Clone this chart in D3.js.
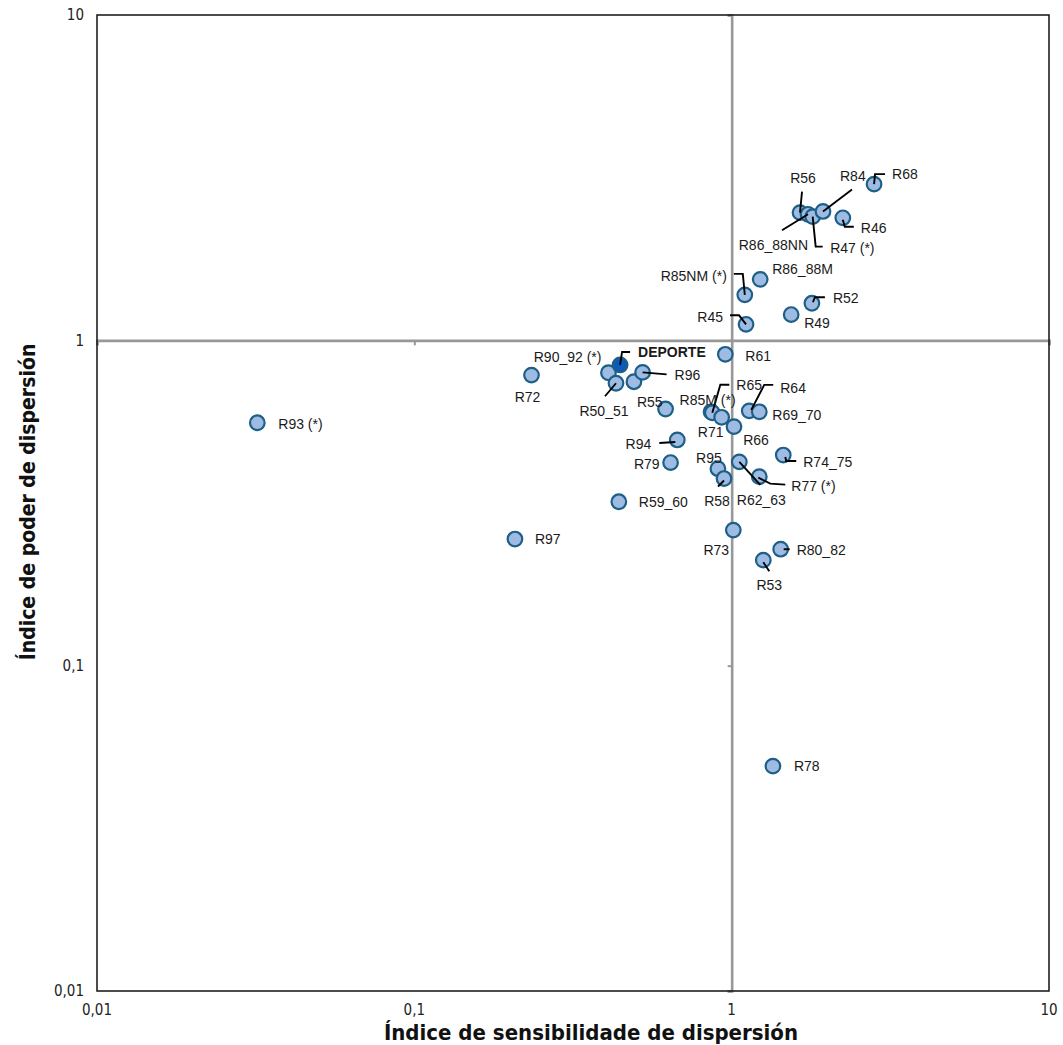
<!DOCTYPE html>
<html><head><meta charset="utf-8">
<script src="https://cdn.jsdelivr.net/npm/d3@7"></script>
<style>body{margin:0;background:#fff}svg{display:block}</style>
</head><body><svg id="c" width="1063" height="1045"></svg>
<script>
// ---- data ----
const names = ["R68","R56","R86_88NN","R47 (*)","R84","R46","R86_88M","R85NM (*)","R52","R49","R45",
  "R90_92 (*)","R72","R50_51","","R96","R55","R85M (*)","R65","R64","R69_70","R71","R66",
  "R94","R79","R95","R58","R59_60","R62_63","R77 (*)","R74_75","R61","R73","R80_82","R53",
  "R93 (*)","R97","R78","DEPORTE"];
const sensitivity = [2.81,1.642,1.74,1.80,1.94,2.24,1.23,1.10,1.79,1.54,1.11,
  0.409,0.234,0.432,0.492,0.524,0.619,0.861,0.869,1.136,1.222,0.930,1.017,
  0.674,0.642,0.905,0.946,0.441,1.057,1.222,1.454,0.955,1.012,1.427,1.258,
  0.032,0.2075,1.349,0.445];
const power = [3.02,2.47,2.44,2.40,2.49,2.38,1.54,1.38,1.30,1.20,1.12,
  0.795,0.782,0.738,0.746,0.797,0.615,0.603,0.599,0.607,0.603,0.580,0.543,
  0.494,0.421,0.403,0.376,0.319,0.423,0.381,0.444,0.906,0.261,0.228,0.211,
  0.558,0.245,0.0491,0.84];
const highlight = "DEPORTE";
const tickValues = [0.01,0.1,1,10];
const tickLabels = ["0,01","0,1","1","10"];
const xTitle = "Índice de sensibilidade de dispersión";
const yTitle = "Índice de poder de dispersión";

// ---- label layout (pixel offsets from the point) ----
const labelLayout = {
  "R68":[18,-10,"s",[[11,-10],[1,-10],[0,0]]],
  "R56":[3,-34,"m",[[2,-21],[0,0]]],
  "R86_88NN":[0,31,"e",[[-26,16],[0,0]]],
  "R47 (*)":[17.5,31,"s",[[0,0],[3,30],[10,30]]],
  "R84":[17,-35,"s",[[29,-22],[0,0]]],
  "R46":[18,10,"s",[[0,2],[2,9],[11,9]]],
  "R86_88M":[12,-10,"s"],
  "R85NM (*)":[-18,-19,"e",[[-11,-21],[-2,-21],[0,0]]],
  "R52":[21,-5,"s",[[1,-1],[3,-6],[13,-6]]],
  "R49":[13,9,"s"],
  "R45":[-23,-7,"e",[[-16,-9],[-7,-9],[0,0]]],
  "DEPORTE":[18,-13,"s",[[10,-13],[2,-13],[0,0]]],
  "R90_92 (*)":[-7,-16,"e"],
  "R72":[-4,22,"m"],
  "R50_51":[-12,28,"m",[[-11,13],[0,0]]],
  "R96":[32,3,"s",[[24,2],[0,0]]],
  "R55":[-3,-7,"e"],
  "R85M (*)":[-3.5,-12,"m"],
  "R65":[24,-28,"s",[[17,-28],[8,-28],[0,0]]],
  "R64":[31,-23,"s",[[24,-26],[15,-26],[2,-1]]],
  "R69_70":[13,3,"s"],
  "R71":[-11,15,"m"],
  "R66":[22,13,"m"],
  "R94":[-26,4,"e",[[-18,3],[-2,2]]],
  "R79":[-11,2,"e"],
  "R95":[-9,-11,"m"],
  "R58":[-7,23,"m",[[-6,8],[0,2]]],
  "R59_60":[20,0,"s"],
  "R62_63":[22,38,"m",[[0,0],[21,23]]],
  "R77 (*)":[32,9,"s",[[-1,1],[11,7],[26,8]]],
  "R74_75":[20,7,"s",[[2,2],[3,6],[13,6]]],
  "R61":[20,2,"s"],
  "R73":[-17,20,"m"],
  "R80_82":[16,1,"s",[[3,0],[9,0]]],
  "R53":[6,25,"m",[[0,2],[6,11]]],
  "R93 (*)":[21,1,"s"],
  "R97":[20,0,"s"],
  "R78":[21,0,"s"]
};

const points = names.map((n,i)=>({name:n,x:sensitivity[i],y:power[i]}));
const svg = d3.select("#c");
const L=97,R=1049,T=15,B=991;
const x = d3.scaleLog().domain([0.01,10]).range([L,R]);
const y = d3.scaleLog().domain([0.01,10]).range([B,T]);
const font = "'Liberation Sans', Arial, sans-serif";
const narrow = "'Liberation Sans Narrow','DejaVu Sans Condensed','Roboto',sans-serif";

svg.append("rect").attr("width",1063).attr("height",1045).attr("fill","#fff");

// crossing axes at 1
const gx = svg.append("g").attr("transform",`translate(0,${y(1)})`)
  .call(d3.axisBottom(x).tickValues(tickValues).tickSize(5).tickFormat(""));
const gy = svg.append("g").attr("transform",`translate(${x(1)},0)`)
  .call(d3.axisLeft(y).tickValues(tickValues).tickSize(4).tickFormat(""));
[gx,gy].forEach(g=>{
  g.select(".domain").attr("stroke","#989898").attr("stroke-width",2.6);
  g.selectAll(".tick line").attr("stroke","#989898").attr("stroke-width",2);
});

// frame
svg.append("rect").attr("x",L).attr("y",T).attr("width",R-L).attr("height",B-T)
  .attr("fill","none").attr("stroke","#111").attr("stroke-width",1.5);

// tick labels (low position)
svg.append("g").selectAll("text").data(tickValues).join("text")
  .attr("x",d=>x(d)).attr("y",1010).attr("dy","0.35em").attr("text-anchor","middle")
  .attr("font-family",narrow).attr("font-size",15).attr("fill","#222")
  .text((d,i)=>tickLabels[i]);
svg.append("g").selectAll("text").data(tickValues).join("text")
  .attr("x",84).attr("y",d=>y(d)).attr("dy","0.35em").attr("text-anchor","end")
  .attr("font-family",narrow).attr("font-size",15).attr("fill","#222")
  .text((d,i)=>tickLabels[i]);

// axis titles
svg.append("text").attr("x",591).attr("y",1032).attr("dy","0.35em").attr("text-anchor","middle")
  .attr("font-family",narrow).attr("font-weight","bold").attr("font-size",22).attr("fill","#111")
  .text(xTitle);
svg.append("text").attr("transform",`translate(28,502) rotate(-90)`).attr("dy","0.35em")
  .attr("text-anchor","middle").attr("font-family",narrow).attr("font-weight","bold")
  .attr("font-size",21).attr("fill","#111").text(yTitle);

// points
const ordered = points.filter(p=>p.name!==highlight).concat(points.filter(p=>p.name===highlight));
svg.append("g").selectAll("circle").data(ordered).join("circle")
  .attr("cx",d=>x(d.x)).attr("cy",d=>y(d.y)).attr("r",7.3)
  .attr("fill",d=>d.name===highlight?"#0b5cb8":"#9dbbe3")
  .attr("stroke","#1e5f85").attr("stroke-width",2.2);

// leaders
const line = d3.line();
svg.append("g").selectAll("path").data(points.filter(p=>labelLayout[p.name]&&labelLayout[p.name][3])).join("path")
  .attr("d",d=>line(labelLayout[d.name][3].map(o=>[x(d.x)+o[0],y(d.y)+o[1]])))
  .attr("fill","none").attr("stroke","#000").attr("stroke-width",1.9);

// labels
const anch={s:"start",m:"middle",e:"end"};
svg.append("g").selectAll("text").data(points.filter(p=>labelLayout[p.name])).join("text")
  .attr("x",d=>x(d.x)+labelLayout[d.name][0]).attr("y",d=>y(d.y)+labelLayout[d.name][1])
  .attr("dy","0.35em").attr("text-anchor",d=>anch[labelLayout[d.name][2]])
  .attr("font-family",font).attr("font-size",14)
  .attr("font-weight",d=>d.name===highlight?"bold":"normal").attr("fill","#1a1a1a")
  .text(d=>d.name);
</script></body></html>
